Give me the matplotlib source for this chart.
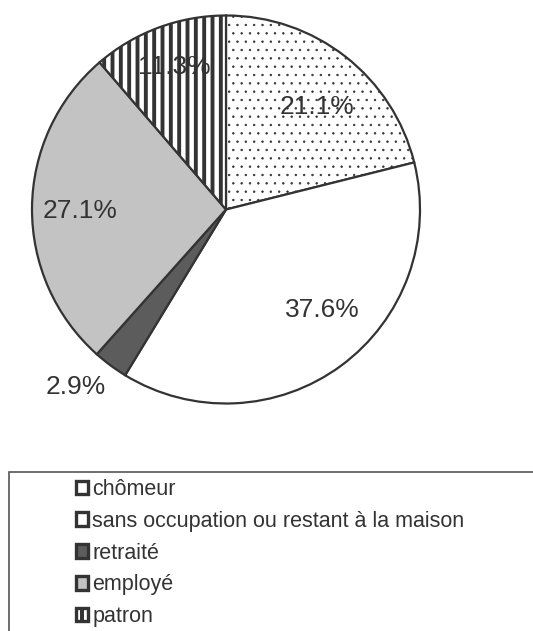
import matplotlib
matplotlib.use('Agg')
import matplotlib.pyplot as plt
from matplotlib.patches import Rectangle
from matplotlib.legend_handler import HandlerPatch
import numpy as np

plt.rcParams['font.family'] = ['Liberation Sans', 'DejaVu Sans']
plt.rcParams['hatch.linewidth'] = 2.8

# data
categories = ['chômeur', 'sans occupation ou restant à la maison',
              'retraité', 'employé', 'patron']
shares = [21.1, 37.6, 2.9, 27.1, 11.3]

# styles
face_colors = ['white', 'white', '#5c5c5c', '#c3c3c3', 'white']
hatches = ['..', None, None, None, '||']
label_dist = [0.705, 0.715, 1.2, 0.75, 0.78]
label_shift = [-3.7, 7.4, -3.8, 1.3, -0.4]  # degrees off the wedge middle
edge = '#333333'
text_col = '#333333'

W, H = 533, 631
fig = plt.figure(figsize=(W / 100, H / 100), dpi=100)

# pie axes (center ~ (226, 209) px, radius ~194 px)
cx, cy, r = 226, 209.5, 194
ax = fig.add_axes([(cx - r) / W, (H - cy - r) / H, 2 * r / W, 2 * r / H])
wedges, _ = ax.pie(shares, startangle=90, counterclock=False,
                   colors=face_colors, radius=1,
                   wedgeprops=dict(edgecolor=edge, linewidth=1.6))
for w, h in zip(wedges, hatches):
    if h:
        w.set_hatch(h)
        if h == '..' and hasattr(w, 'set_hatch_linewidth'):
            w.set_hatch_linewidth(0.5)
ax.set_xlim(-1, 1)
ax.set_ylim(-1, 1)
ax.set_aspect('auto')
ax.axis('off')

# percentage labels
for w, v, d, s in zip(wedges, shares, label_dist, label_shift):
    mid = np.deg2rad((w.theta1 + w.theta2) / 2 + s)
    ax.text(d * np.cos(mid), d * np.sin(mid), f'{v:.1f}%',
            ha='center', va='center', fontsize=19, color=text_col)

# legend frame running off the page
fig.patches.append(Rectangle((9 / W, -0.1), 1.0, (H - 472) / H + 0.1,
                             transform=fig.transFigure, fill=False,
                             edgecolor='#555555', linewidth=1.2))


class StripeHandler(HandlerPatch):
    # square with a thick vertical bar in the middle (patron)
    def create_artists(self, legend, orig_handle, xdescent, ydescent,
                       width, height, fontsize, trans):
        arts = super().create_artists(legend, orig_handle, xdescent, ydescent,
                                      width, height, fontsize, trans)
        bar = Rectangle((-xdescent + width * 0.3, -ydescent), width * 0.4,
                        height, facecolor='#333333', edgecolor='none',
                        transform=trans)
        return arts + [bar]


handles = [Rectangle((0, 0), 1, 1, facecolor=fc, edgecolor='#333333',
                     linewidth=2.4) for fc in face_colors]
leg = fig.legend(handles, categories, loc='upper left',
                 bbox_to_anchor=(76 / W, (H - 479) / H),
                 bbox_transform=fig.transFigure, frameon=False,
                 fontsize=15.5, handlelength=0.55, handleheight=0.6,
                 handletextpad=0.2, labelspacing=0.5,
                 borderpad=0, borderaxespad=0,
                 handler_map={handles[4]: StripeHandler()})
for t in leg.get_texts():
    t.set_color(text_col)

fig.savefig('out.png', dpi=100)
